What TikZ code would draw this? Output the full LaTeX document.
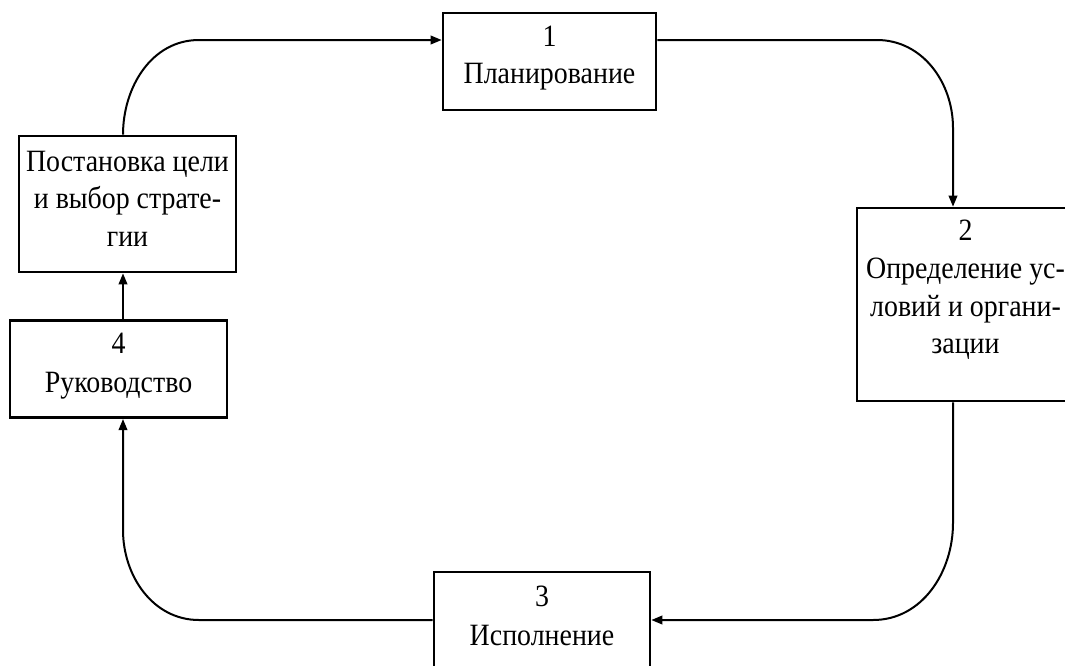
\documentclass[tikz,border=0pt]{standalone}
\usepackage{fontspec}
\setmainfont{Liberation Serif}[FakeStretch=0.9]
\usetikzlibrary{arrows.meta,calc}
\begin{document}
\begin{tikzpicture}[x=1pt,y=-1pt,
  box/.style={draw,line width=2.6pt,inner sep=0pt,align=center},
  fs/.style={font=\fontsize{31}{#1}\selectfont},
  conn/.style={line width=2pt,-{Triangle[length=11pt,width=8.5pt]}}]
\clip (0,0) rectangle (1065,665);
\useasboundingbox (0,0) rectangle (1065,665);
\fill[white] (0,0) rectangle (1065,665);
% boxes
\node[box,fs=37,minimum width=213pt,minimum height=97pt] (b1) at (549.5,61.5) {1\\Планирование\\[-24pt]\mbox{}};
\node[box,fs=37.7,minimum width=217pt,minimum height=136pt] (post) at (127.5,204) {Постановка цели\\и выбор страте-\\гии\\[-27.2pt]\mbox{}};
\node[box,fs=38.7,minimum width=217pt,minimum height=97pt] (b4) at (118.5,369.2) {4\\Руководство\\[-26.4pt]\mbox{}};
\node[box,fs=37.7,minimum width=217pt,minimum height=193pt] (b2) at (965.5,304.5) {2\\Определение ус-\\ловий и органи-\\зации\\[-2.8pt]\mbox{}};
\node[box,fs=38.7,minimum width=216pt,minimum height=98pt] (b3) at (542,621) {3\\Исполнение\\[-28.4pt]\mbox{}};
% helper coordinates
\coordinate (xl) at (123,0);
\coordinate (xr) at (953,0);
\coordinate (yt) at (0,40);
\coordinate (yb) at (0,620);
\coordinate (tl) at (199,40);
\coordinate (tr1) at (877,40);
\coordinate (tr2) at (953,128);
\coordinate (br1) at (953,523);
\coordinate (br2) at (873,620);
\coordinate (bl1) at (199,620);
\coordinate (bl2) at (123,530);
% connectors
\draw[conn] (post.north -| xl) to[out=90,in=180] (tl) -- (b1.west |- yt);
\draw[conn] (b1.east |- yt) -- (tr1) to[out=0,in=90] (tr2) -- (b2.north -| xr);
\draw[conn] (b2.south -| xr) -- (br1) to[out=-90,in=0] (br2) -- (b3.east |- yb);
\draw[conn] (b3.west |- yb) -- (bl1) to[out=180,in=-90] (bl2) -- (b4.south -| xl);
\draw[conn] (b4.north -| xl) -- (post.south -| xl);
\end{tikzpicture}
\end{document}
